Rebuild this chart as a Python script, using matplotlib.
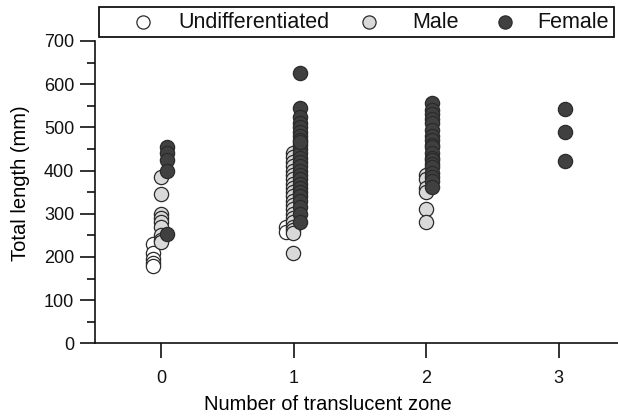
import matplotlib
matplotlib.use("Agg")
import matplotlib.pyplot as plt
from matplotlib.lines import Line2D
from matplotlib.patches import Rectangle
from matplotlib.ticker import MultipleLocator

plt.rcParams['font.family'] = ['Liberation Sans', 'DejaVu Sans']

# ---- data (Total length, mm) by number of translucent zones ----
zones = [0, 1, 2, 3]
tick_labels = ["0", "1", "2", "3"]
groups = ["Undifferentiated", "Male", "Female"]

undiff_zone = [0, 0, 0, 0, 0, 1, 1]
undiff_len = [230, 210, 195, 185, 178, 270, 258]

male_zone = [0] * 9 + [1] * 21 + [2] * 6
male_len = [385, 345, 300, 290, 280, 270, 250, 240, 235,
            440, 432, 420, 410, 400, 390, 380, 370, 360, 350, 340,
            330, 320, 310, 300, 290, 280, 270, 262, 255, 209,
            389, 380, 359, 350, 311, 281]

female_zone = [0] * 5 + [1] * 26 + [2] * 19 + [3] * 3
female_len = [455, 440, 425, 400, 252,
              625, 545, 525, 510, 500, 490, 480, 470, 460, 450, 440, 430,
              420, 410, 400, 390, 380, 370, 360, 350, 340, 330, 315, 300,
              282, 465,
              556, 540, 532, 520, 509, 495, 480, 470, 460, 454, 440, 430,
              424, 415, 408, 395, 385, 375, 362,
              542, 489, 422]

# ---- styling ----
W, H = 618, 420
fig = plt.figure(figsize=(W / 100, H / 100), dpi=100)
ax = fig.add_axes([95 / W, 76.7 / H, (625 - 95) / W, (343.3 - 41) / H])

offsets = {"Undifferentiated": -0.06, "Male": -0.005, "Female": 0.045}
fills = {"Undifferentiated": "#ffffff", "Male": "#d9d9d9", "Female": "#404040"}
edge = "#2b2b2b"

series = {
    "Undifferentiated": (undiff_zone, undiff_len),
    "Male": (male_zone, male_len),
    "Female": (female_zone, female_len),
}
for z, name in enumerate(groups):
    xs, ys = series[name]
    ax.scatter([x + offsets[name] for x in xs], ys, s=105, c=fills[name],
               edgecolors=edge, linewidths=0.9, zorder=2 + z, clip_on=False)

ax.set_xlim(-0.5, 3.5)
ax.set_ylim(0, 700)
ax.set_xticks(zones)
ax.set_xticklabels(tick_labels)
ax.yaxis.set_major_locator(MultipleLocator(100))
ax.yaxis.set_minor_locator(MultipleLocator(50))
for s in ["top", "right"]:
    ax.spines[s].set_visible(False)
for s in ["left", "bottom"]:
    ax.spines[s].set_linewidth(1.2)
    ax.spines[s].set_color("#111111")
ax.tick_params(axis="both", which="major", direction="out", length=11,
               width=1.2, labelsize=13, colors="#111111")
ax.tick_params(axis="y", which="minor", direction="out", length=5.5, width=1.2,
               colors="#111111")
ax.tick_params(axis="y", which="major", pad=4)
ax.tick_params(axis="x", which="major", pad=8)
ax.set_xlabel("Number of translucent zone", fontsize=14.5)
ax.set_ylabel("Total length (mm)", fontsize=14.5)
ax.xaxis.set_label_coords((328 - 95) / 530, -(404 - 343.3) / 302.3)
ax.yaxis.set_label_coords(-(95 - 21) / 530, (343.3 - 183) / 302.3)
ax.xaxis.label.set_va("center")
ax.yaxis.label.set_va("center")

# ---- legend box (top) ----
def fx(px):
    return px / W

def fy(py):
    return 1 - py / H

fig.add_artist(Rectangle((fx(99), fy(37)), fx(614) - fx(99), (37 - 7) / H,
                         transform=fig.transFigure, fill=False,
                         edgecolor="#111111", linewidth=1.3))
leg_marker_x = [143, 369, 505]
leg_text_x = [178, 412, 537]
for name, mx, tx in zip(groups, leg_marker_x, leg_text_x):
    fig.add_artist(Line2D([fx(mx)], [fy(22)], transform=fig.transFigure,
                          marker="o", markersize=9.5, markerfacecolor=fills[name],
                          markeredgecolor=edge, markeredgewidth=0.9,
                          linestyle="none"))
    fig.text(fx(tx), fy(22), name, fontsize=15.5, va="center", ha="left",
             color="#111111")

fig.savefig("out.png", dpi=100, facecolor="white")
